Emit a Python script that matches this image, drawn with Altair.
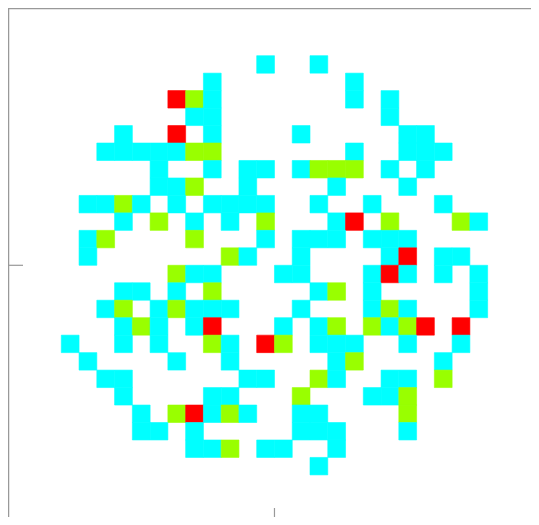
import altair as alt
import pandas as pd

# Grid of cells, one string per row (top to bottom), one char per column (left to right)
# C = cyan, G = green, R = red, . = empty
grid_rows = [
    "...........C..C.........",
    "........C.......C.......",
    "......RGC.......C.C.....",
    ".......CC.........C.....",
    "...C..R.C....C.....CC...",
    "..CCCCCGG.......C..CCC..",
    ".....C..C.CC.CGGG.C.C...",
    ".....CCG..C....C...C....",
    ".CCGC.C.CCCC..C..C...C..",
    "...C.G.C.C.G...CR.G...GC",
    ".CG....G...C.CCC.CCC....",
    ".C.......GC..C....CR.CC.",
    "......GCC...CC...CRC.C.C",
    "...CC.C.G.....CG.C.....C",
    "..CG.CGCCC...C...CGC...C",
    "...CGC.CR...C.CG.GCGR.R.",
    "C..C.C..GC.RG.CCC..C..C.",
    ".C....C..C.....CG....C..",
    "..CC......CC..GC..CC.G..",
    "...C....CC...G...CCG....",
    "....C.GRCGC..CC....G....",
    "....CC.C.....CCC...C....",
    ".......CCG.CC..C........",
    "..............C.........",
]
categories = ["C", "G", "R"]
colors = ["#00FFFF", "#99FF00", "#FF0000"]

# visible part of the axes box (right and bottom edges lie beyond the picture)
x_domain = [-15, 14.44]
y_domain = [-14.41, 14.73]
W, H = 523, 509
FRAME = "#999999"

n = len(grid_rows)
half = n // 2
recs = []
for r, row in enumerate(grid_rows):
    assert len(row) == n, (r, len(row))
    for c, ch in enumerate(row):
        if ch in categories:
            recs.append({"x": c - half, "x2": c - half + 1,
                         "y": half - r, "y2": half - r - 1, "k": ch})
df = pd.DataFrame(recs)

xs = alt.Scale(domain=x_domain, nice=False, zero=False)
ys = alt.Scale(domain=y_domain, nice=False, zero=False)
cscale = alt.Scale(domain=categories, range=colors)

cells = alt.Chart(df).mark_rect(strokeWidth=0.6).encode(
    x=alt.X("x:Q", scale=xs, axis=None),
    x2="x2:Q",
    y=alt.Y("y:Q", scale=ys, axis=None),
    y2="y2:Q",
    color=alt.Color("k:N", scale=cscale, legend=None),
    stroke=alt.Stroke("k:N", scale=cscale, legend=None),
)

one = pd.DataFrame({"v": [0]})
left_line = alt.Chart(one).mark_rule(color=FRAME, strokeWidth=2.5).encode(
    x=alt.value(0), y=alt.value(0), y2=alt.value(H)
)
top_line = alt.Chart(one).mark_rule(color=FRAME, strokeWidth=2.5).encode(
    x=alt.value(0), x2=alt.value(W), y=alt.value(0)
)
ytick = alt.Chart(one).mark_rule(color=FRAME, strokeWidth=1.2).encode(
    x=alt.value(0), x2=alt.value(15), y=alt.Y("v:Q", scale=ys, axis=None)
)
xtick = alt.Chart(one).mark_rule(color=FRAME, strokeWidth=1.2).encode(
    x=alt.X("v:Q", scale=xs, axis=None), y=alt.value(H), y2=alt.value(H - 9)
)

chart = alt.layer(cells, left_line, top_line, ytick, xtick).properties(
    width=W, height=H,
    autosize=alt.AutoSizeParams(type="none"),
    padding=0,
).configure_view(strokeWidth=0).configure(background="white")

chart.save("out.html", embed_options={"renderer": "svg", "actions": False})
